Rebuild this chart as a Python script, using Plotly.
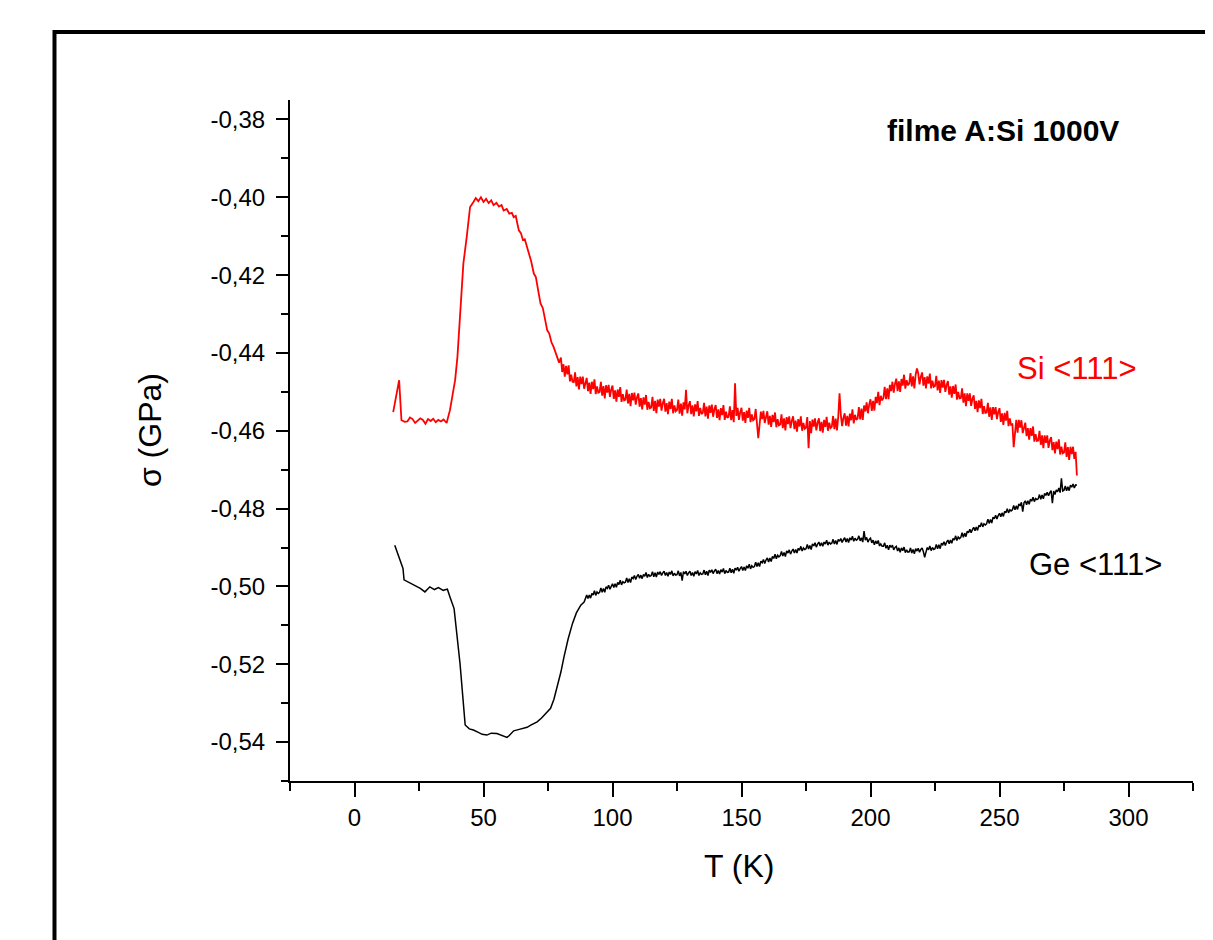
import plotly.graph_objects as go

# ---------------- data ----------------
# Si <111>, low-temperature part
si_T_low = [15.0, 17.3, 18.2, 19.5, 20.5, 21.5, 22.5, 23.5, 24.5, 25.5,
            26.5, 27.5, 28.5, 29.5, 30.5, 31.5, 32.5, 33.5, 34.5, 35.7,
            37.0, 39.0, 39.9, 40.9, 42.2, 43.5, 44.8, 46.1, 47.0, 48.0,
            49.0, 50.0, 51.0, 52.0, 53.0, 53.9, 55.0, 56.0, 57.0, 57.8,
            59.0, 60.0, 61.0, 61.7, 62.5, 63.2, 63.7, 64.5, 65.3, 66.0,
            66.9, 67.7, 68.5, 69.5, 70.3, 71.2, 72.1, 73.0, 73.8, 74.7,
            75.5, 76.3, 77.2, 78.0, 78.6, 79.3]
si_s_low = [-0.4552, -0.4470, -0.4573, -0.4577, -0.4576, -0.4566, -0.4570, -0.4580, -0.4574, -0.4568,
            -0.4572, -0.4582, -0.4570, -0.4575, -0.4569, -0.4578, -0.4572, -0.4576, -0.4571, -0.4580,
            -0.4547, -0.4470, -0.4410, -0.4316, -0.4170, -0.4102, -0.4025, -0.4012, -0.4002, -0.4010,
            -0.4000, -0.4012, -0.4004, -0.4015, -0.4008, -0.4020, -0.4014, -0.4024, -0.4020, -0.4034,
            -0.4030, -0.4042, -0.4040, -0.4051, -0.4048, -0.4070, -0.4085, -0.4092, -0.4110, -0.4108,
            -0.4128, -0.4150, -0.4165, -0.4196, -0.4205, -0.4240, -0.4273, -0.4285, -0.4315, -0.4342,
            -0.4350, -0.4372, -0.4385, -0.4400, -0.4410, -0.4425]

# Si <111>, 80 K to 280 K, one reading every 0.5 K
si_T_high = [80 + 0.5 * i for i in range(401)]
si_s_high = [
    -0.4412, -0.4449, -0.4429, -0.4461, -0.4433, -0.4455, -0.4432, -0.4473, -0.4456, -0.4474,  # 80
    -0.4475, -0.4450, -0.4486, -0.4462, -0.4494, -0.4461, -0.4480, -0.4461, -0.4492, -0.4474,  # 85
    -0.4464, -0.4498, -0.4476, -0.4505, -0.4474, -0.4493, -0.4468, -0.4506, -0.4486, -0.4502,  # 90
    -0.4500, -0.4474, -0.4510, -0.4485, -0.4517, -0.4483, -0.4502, -0.4482, -0.4513, -0.4494,  # 95
    -0.4484, -0.4518, -0.4496, -0.4525, -0.4494, -0.4513, -0.4488, -0.4526, -0.4506, -0.4522,  # 100
    -0.4520, -0.4494, -0.4530, -0.4505, -0.4537, -0.4503, -0.4522, -0.4502, -0.4533, -0.4514,  # 105
    -0.4504, -0.4538, -0.4516, -0.4545, -0.4514, -0.4533, -0.4508, -0.4546, -0.4526, -0.4542,  # 110
    -0.4540, -0.4513, -0.4549, -0.4523, -0.4555, -0.4520, -0.4538, -0.4518, -0.4548, -0.4529,  # 115
    -0.4518, -0.4551, -0.4529, -0.4557, -0.4525, -0.4544, -0.4518, -0.4555, -0.4535, -0.4550,  # 120
    -0.4547, -0.4520, -0.4556, -0.4530, -0.4561, -0.4527, -0.4545, -0.4495, -0.4555, -0.4535,  # 125
    -0.4524, -0.4557, -0.4535, -0.4563, -0.4532, -0.4550, -0.4524, -0.4562, -0.4541, -0.4557,  # 130
    -0.4554, -0.4528, -0.4563, -0.4538, -0.4569, -0.4535, -0.4554, -0.4533, -0.4564, -0.4544,  # 135
    -0.4534, -0.4567, -0.4545, -0.4573, -0.4542, -0.4560, -0.4534, -0.4572, -0.4551, -0.4567,  # 140
    -0.4564, -0.4537, -0.4573, -0.4547, -0.4578, -0.4478, -0.4562, -0.4541, -0.4572, -0.4552,  # 145
    -0.4541, -0.4574, -0.4552, -0.4580, -0.4548, -0.4567, -0.4541, -0.4578, -0.4558, -0.4573,  # 150
    -0.4570, -0.4544, -0.4579, -0.4619, -0.4585, -0.4551, -0.4570, -0.4549, -0.4580, -0.4560,  # 155
    -0.4550, -0.4584, -0.4562, -0.4590, -0.4559, -0.4578, -0.4553, -0.4591, -0.4570, -0.4586,  # 160
    -0.4584, -0.4558, -0.4593, -0.4568, -0.4599, -0.4565, -0.4583, -0.4563, -0.4593, -0.4574,  # 165
    -0.4563, -0.4596, -0.4574, -0.4602, -0.4570, -0.4589, -0.4563, -0.4600, -0.4580, -0.4595,  # 170
    -0.4592, -0.4565, -0.4645, -0.4575, -0.4606, -0.4571, -0.4589, -0.4568, -0.4599, -0.4579,  # 175
    -0.4568, -0.4601, -0.4577, -0.4605, -0.4572, -0.4590, -0.4564, -0.4600, -0.4579, -0.4593,  # 180
    -0.4590, -0.4562, -0.4596, -0.4569, -0.4599, -0.4564, -0.4504, -0.4559, -0.4588, -0.4567,  # 185
    -0.4555, -0.4587, -0.4562, -0.4589, -0.4556, -0.4573, -0.4545, -0.4581, -0.4559, -0.4572,  # 190
    -0.4568, -0.4539, -0.4571, -0.4543, -0.4572, -0.4535, -0.4550, -0.4527, -0.4555, -0.4532,  # 195
    -0.4519, -0.4549, -0.4523, -0.4548, -0.4513, -0.4529, -0.4500, -0.4534, -0.4510, -0.4522,  # 200
    -0.4516, -0.4487, -0.4519, -0.4491, -0.4519, -0.4482, -0.4498, -0.4474, -0.4502, -0.4479,  # 205
    -0.4466, -0.4498, -0.4473, -0.4500, -0.4467, -0.4484, -0.4456, -0.4492, -0.4470, -0.4483,  # 210
    -0.4479, -0.4452, -0.4486, -0.4460, -0.4491, -0.4456, -0.4440, -0.4452, -0.4481, -0.4461,  # 215
    -0.4450, -0.4484, -0.4462, -0.4491, -0.4460, -0.4479, -0.4453, -0.4491, -0.4471, -0.4487,  # 220
    -0.4485, -0.4459, -0.4496, -0.4471, -0.4503, -0.4470, -0.4489, -0.4469, -0.4500, -0.4482,  # 225
    -0.4472, -0.4507, -0.4486, -0.4515, -0.4485, -0.4505, -0.4481, -0.4520, -0.4500, -0.4517,  # 230
    -0.4516, -0.4491, -0.4528, -0.4504, -0.4537, -0.4504, -0.4523, -0.4504, -0.4536, -0.4518,  # 235
    -0.4509, -0.4544, -0.4523, -0.4552, -0.4522, -0.4542, -0.4518, -0.4557, -0.4537, -0.4554,  # 240
    -0.4553, -0.4528, -0.4564, -0.4540, -0.4572, -0.4539, -0.4558, -0.4539, -0.4570, -0.4552,  # 245
    -0.4542, -0.4577, -0.4555, -0.4585, -0.4554, -0.4574, -0.4549, -0.4588, -0.4568, -0.4585,  # 250
    -0.4583, -0.4642, -0.4595, -0.4572, -0.4605, -0.4572, -0.4592, -0.4573, -0.4606, -0.4588,  # 255
    -0.4579, -0.4614, -0.4593, -0.4623, -0.4593, -0.4613, -0.4589, -0.4628, -0.4609, -0.4626,  # 260
    -0.4625, -0.4600, -0.4636, -0.4612, -0.4645, -0.4612, -0.4631, -0.4612, -0.4644, -0.4625,  # 265
    -0.4616, -0.4650, -0.4629, -0.4658, -0.4628, -0.4647, -0.4622, -0.4661, -0.4641, -0.4658,  # 270
    -0.4656, -0.4630, -0.4667, -0.4642, -0.4675, -0.4641, -0.4660, -0.4641, -0.4672, -0.4654,  # 275
    -0.4715]

# Ge <111>, low-temperature part
ge_T_low = [15.6, 18.8, 19.2, 22.1, 24.0, 25.5, 27.3, 29.2, 31.0, 32.5,
            34.4, 36.0, 37.0, 38.6, 40.9, 42.9, 44.5, 46.1, 48.0, 49.5,
            51.3, 53.0, 55.2, 57.0, 59.1, 60.0, 61.7, 63.5, 65.0, 66.9,
            68.5, 70.8, 72.5, 74.0, 76.0, 77.3, 78.6, 80.0, 81.2, 82.8,
            84.5, 86.0, 87.7, 89.0]
ge_s_low = [-0.4894, -0.4954, -0.4983, -0.4993, -0.4998, -0.5005, -0.5014, -0.5001, -0.5008, -0.5003,
            -0.5010, -0.5007, -0.5027, -0.5057, -0.5198, -0.5356, -0.5366, -0.5369, -0.5375, -0.5380,
            -0.5382, -0.5377, -0.5378, -0.5382, -0.5388, -0.5383, -0.5371, -0.5368, -0.5366, -0.5362,
            -0.5356, -0.5348, -0.5338, -0.5327, -0.5313, -0.5290, -0.5258, -0.5220, -0.5181, -0.5135,
            -0.5095, -0.5068, -0.5048, -0.5040]

# Ge <111>, 90 K to 280 K, one reading every 0.5 K
ge_T_high = [90 + 0.5 * i for i in range(381)]
ge_s_high = [
    -0.5022, -0.5031, -0.5022, -0.5030, -0.5018, -0.5022, -0.5011, -0.5023, -0.5014, -0.5018,  # 90
    -0.5015, -0.5004, -0.5015, -0.5005, -0.5015, -0.5001, -0.5005, -0.4997, -0.5007, -0.4998,  # 95
    -0.4993, -0.5003, -0.4993, -0.5002, -0.4990, -0.4995, -0.4984, -0.4996, -0.4988, -0.4991,  # 100
    -0.4989, -0.4978, -0.4990, -0.4980, -0.4990, -0.4976, -0.4980, -0.4972, -0.4982, -0.4974,  # 105
    -0.4969, -0.4979, -0.4971, -0.4980, -0.4969, -0.4974, -0.4964, -0.4977, -0.4969, -0.4974,  # 110
    -0.4972, -0.4962, -0.4975, -0.4965, -0.4976, -0.4963, -0.4969, -0.4962, -0.4972, -0.4965,  # 115
    -0.4961, -0.4972, -0.4964, -0.4974, -0.4963, -0.4969, -0.4960, -0.4973, -0.4966, -0.4971,  # 120
    -0.4970, -0.4960, -0.4973, -0.4964, -0.4985, -0.4962, -0.4968, -0.4961, -0.4972, -0.4965,  # 125
    -0.4961, -0.4972, -0.4964, -0.4974, -0.4962, -0.4968, -0.4959, -0.4972, -0.4965, -0.4969,  # 130
    -0.4968, -0.4958, -0.4970, -0.4961, -0.4972, -0.4958, -0.4964, -0.4957, -0.4967, -0.4960,  # 135
    -0.4956, -0.4967, -0.4959, -0.4968, -0.4957, -0.4963, -0.4954, -0.4967, -0.4959, -0.4964,  # 140
    -0.4963, -0.4953, -0.4965, -0.4956, -0.4966, -0.4953, -0.4958, -0.4951, -0.4961, -0.4954,  # 145
    -0.4949, -0.4959, -0.4950, -0.4959, -0.4947, -0.4953, -0.4943, -0.4955, -0.4947, -0.4951,  # 150
    -0.4949, -0.4938, -0.4949, -0.4939, -0.4949, -0.4935, -0.4939, -0.4931, -0.4941, -0.4932,  # 155
    -0.4927, -0.4937, -0.4927, -0.4936, -0.4923, -0.4928, -0.4917, -0.4929, -0.4920, -0.4924,  # 160
    -0.4921, -0.4910, -0.4922, -0.4913, -0.4923, -0.4909, -0.4914, -0.4906, -0.4917, -0.4909,  # 165
    -0.4904, -0.4914, -0.4905, -0.4914, -0.4902, -0.4907, -0.4897, -0.4909, -0.4901, -0.4905,  # 170
    -0.4903, -0.4892, -0.4904, -0.4895, -0.4905, -0.4891, -0.4896, -0.4888, -0.4899, -0.4891,  # 175
    -0.4886, -0.4896, -0.4888, -0.4897, -0.4886, -0.4891, -0.4881, -0.4894, -0.4886, -0.4891,  # 180
    -0.4889, -0.4879, -0.4891, -0.4882, -0.4892, -0.4879, -0.4884, -0.4877, -0.4887, -0.4880,  # 185
    -0.4875, -0.4886, -0.4877, -0.4887, -0.4875, -0.4881, -0.4871, -0.4884, -0.4876, -0.4881,  # 190
    -0.4879, -0.4870, -0.4883, -0.4875, -0.4886, -0.4858, -0.4881, -0.4874, -0.4886, -0.4879,  # 195
    -0.4876, -0.4888, -0.4881, -0.4893, -0.4883, -0.4890, -0.4882, -0.4896, -0.4891, -0.4897,  # 200
    -0.4897, -0.4888, -0.4902, -0.4894, -0.4906, -0.4894, -0.4900, -0.4894, -0.4906, -0.4900,  # 205
    -0.4897, -0.4909, -0.4901, -0.4912, -0.4901, -0.4908, -0.4899, -0.4913, -0.4906, -0.4912,  # 210
    -0.4911, -0.4901, -0.4914, -0.4905, -0.4916, -0.4903, -0.4909, -0.4902, -0.4912, -0.4905,  # 215
    -0.4901, -0.4911, -0.4925, -0.4912, -0.4900, -0.4906, -0.4896, -0.4908, -0.4900, -0.4905,  # 220
    -0.4903, -0.4892, -0.4903, -0.4893, -0.4903, -0.4889, -0.4893, -0.4885, -0.4895, -0.4886,  # 225
    -0.4881, -0.4890, -0.4881, -0.4889, -0.4877, -0.4881, -0.4870, -0.4882, -0.4873, -0.4877,  # 230
    -0.4874, -0.4862, -0.4874, -0.4863, -0.4872, -0.4858, -0.4862, -0.4853, -0.4862, -0.4854,  # 235
    -0.4848, -0.4857, -0.4847, -0.4856, -0.4843, -0.4847, -0.4836, -0.4847, -0.4839, -0.4842,  # 240
    -0.4839, -0.4827, -0.4838, -0.4828, -0.4837, -0.4822, -0.4826, -0.4817, -0.4827, -0.4818,  # 245
    -0.4812, -0.4821, -0.4811, -0.4820, -0.4807, -0.4811, -0.4800, -0.4811, -0.4803, -0.4806,  # 250
    -0.4803, -0.4792, -0.4803, -0.4793, -0.4802, -0.4788, -0.4793, -0.4784, -0.4808, -0.4785,  # 255
    -0.4780, -0.4790, -0.4780, -0.4789, -0.4776, -0.4781, -0.4771, -0.4782, -0.4774, -0.4777,  # 260
    -0.4775, -0.4764, -0.4776, -0.4765, -0.4775, -0.4761, -0.4766, -0.4758, -0.4767, -0.4759,  # 265
    -0.4754, -0.4786, -0.4755, -0.4764, -0.4752, -0.4757, -0.4747, -0.4759, -0.4722, -0.4755,  # 270
    -0.4753, -0.4742, -0.4754, -0.4744, -0.4754, -0.4740, -0.4745, -0.4737, -0.4747, -0.4739,  # 275
    -0.4740]

x_ticks = [0, 50, 100, 150, 200, 250, 300]
x_minor = [-25, 25, 75, 125, 175, 225, 275, 325]
y_ticks = [-0.38, -0.40, -0.42, -0.44, -0.46, -0.48, -0.50, -0.52, -0.54]
y_labels = ["-0,38", "-0,40", "-0,42", "-0,44", "-0,46", "-0,48", "-0,50", "-0,52", "-0,54"]
y_minor = [-0.39, -0.41, -0.43, -0.45, -0.47, -0.49, -0.51, -0.53, -0.55]

title_text = "filme A:Si 1000V"
si_label = "Si <111>"
ge_label = "Ge <111>"
x_title = "T (K)"
y_title = "σ (GPa)"

FONT = "Arial, Liberation Sans, sans-serif"

fig = go.Figure()
fig.add_trace(go.Scatter(x=si_T_low + si_T_high, y=si_s_low + si_s_high, mode="lines",
                         line=dict(color="#ff0000", width=1.8), showlegend=False))
fig.add_trace(go.Scatter(x=ge_T_low + ge_T_high, y=ge_s_low + ge_s_high, mode="lines",
                         line=dict(color="#000000", width=1.5), showlegend=False))

axis_common = dict(showgrid=False, zeroline=False, showline=True, linecolor="black", linewidth=2,
                   ticks="outside", tickwidth=2, tickcolor="black",
                   tickfont=dict(family=FONT, size=24, color="black"))

fig.update_xaxes(range=[-25, 325], tickmode="array", tickvals=x_ticks, ticklen=14,
                 minor=dict(tickmode="array", tickvals=x_minor, ticks="outside", ticklen=8,
                            tickwidth=2, tickcolor="black"),
                 **axis_common)
fig.update_yaxes(range=[-0.55, -0.375], tickmode="array", tickvals=y_ticks, ticktext=y_labels,
                 ticklen=12, ticklabelstandoff=6,
                 minor=dict(tickmode="array", tickvals=y_minor, ticks="outside", ticklen=7,
                            tickwidth=2, tickcolor="black"),
                 **axis_common)

fig.update_layout(
    width=1205, height=932,
    margin=dict(l=282, r=20, t=92, b=159),
    plot_bgcolor="white", paper_bgcolor="white",
    showlegend=False,
    shapes=[dict(type="rect", xref="paper", yref="paper", x0=-0.2608, x1=1.2, y0=-0.4, y1=1.0999,
                 line=dict(color="black", width=4), fillcolor="rgba(0,0,0,0)", layer="above")],
    annotations=[
        dict(text=f"<b>{title_text}</b>", xref="paper", yref="paper", x=0.7896, y=0.9545,
             xanchor="center", yanchor="middle", showarrow=False,
             font=dict(family=FONT, size=30, color="black")),
        dict(text=si_label, xref="paper", yref="paper", x=0.8715, y=0.605,
             xanchor="center", yanchor="middle", showarrow=False,
             font=dict(family=FONT, size=31, color="#ff0000")),
        dict(text=ge_label, xref="paper", yref="paper", x=0.8915, y=0.3172,
             xanchor="center", yanchor="middle", showarrow=False,
             font=dict(family=FONT, size=31, color="black")),
        dict(text=x_title, xref="paper", yref="paper", x=0.498, y=-0.1248,
             xanchor="center", yanchor="middle", showarrow=False,
             font=dict(family=FONT, size=32, color="black")),
        dict(text=y_title, xref="paper", yref="paper", x=-0.155, y=0.5154, textangle=-90,
             xanchor="center", yanchor="middle", showarrow=False,
             font=dict(family=FONT, size=32, color="black")),
    ],
)

fig.write_html("out.html")
